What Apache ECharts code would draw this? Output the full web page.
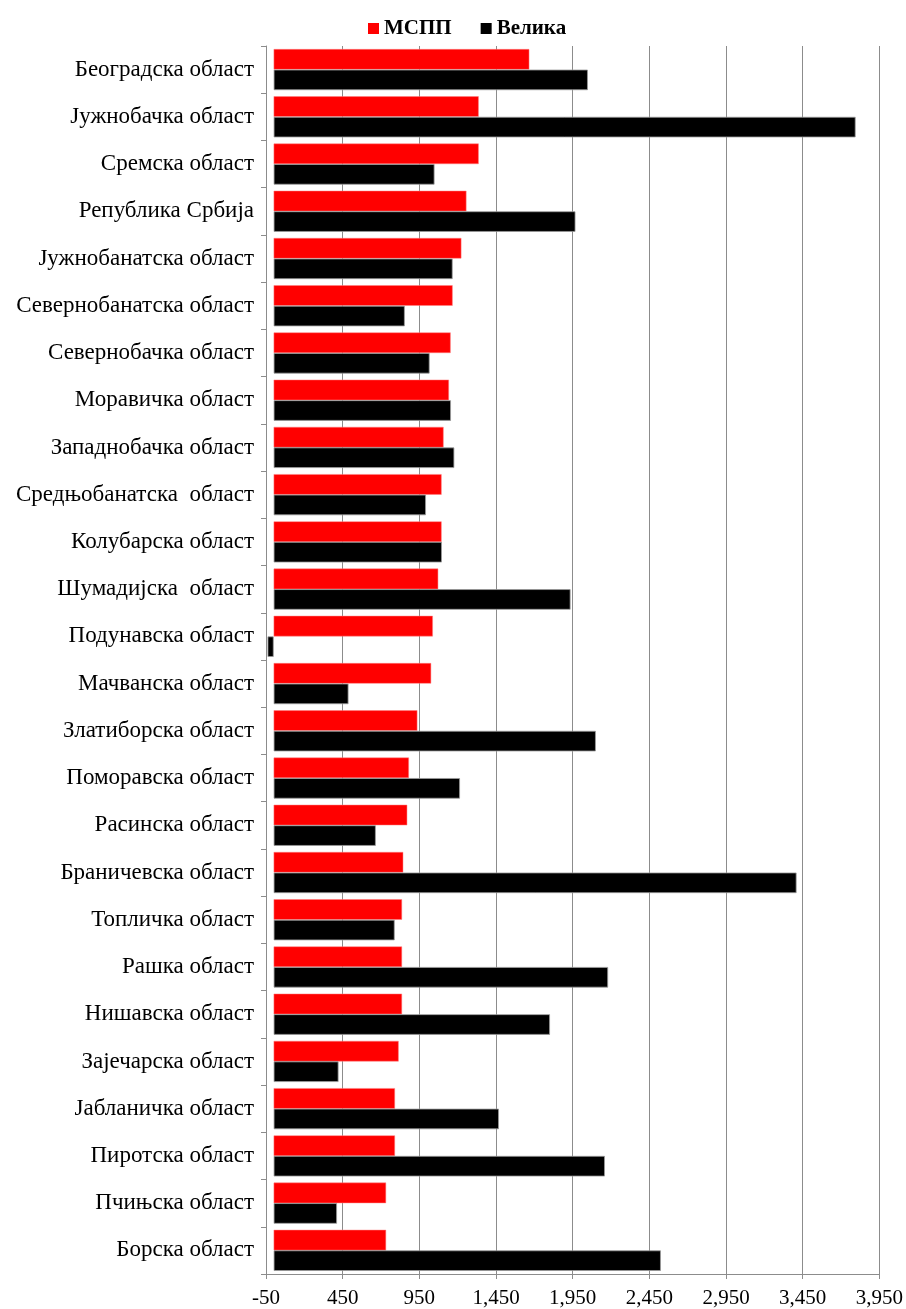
<!DOCTYPE html>
<html>
<head>
<meta charset="utf-8">
<script src="https://cdn.jsdelivr.net/npm/echarts@6/dist/echarts.min.js"></script>
<style>
  html, body { margin: 0; padding: 0; background: #fff; }
  #chart { width: 906px; height: 1309px; }
</style>
</head>
<body>
<div id="chart"></div>
<script>
// Области, од врха ка дну
const categories = [
  'Београдска област', 'Јужнобачка област', 'Сремска област', 'Република Србија',
  'Јужнобанатска област', 'Севернобанатска област', 'Севернобачка област',
  'Моравичка област', 'Западнобачка област', 'Средњобанатска  област',
  'Колубарска област', 'Шумадијска  област', 'Подунавска област',
  'Мачванска област', 'Златиборска област', 'Поморавска област',
  'Расинска област', 'Браничевска област', 'Топличка област', 'Рашка област',
  'Нишавска област', 'Зајечарска област', 'Јабланичка област',
  'Пиротска област', 'Пчињска област', 'Борска област'
];

const msppValues = [
  1667, 1337, 1337, 1257, 1224, 1167, 1154, 1143, 1108, 1095, 1095, 1073,
  1038, 1027, 937, 882, 871, 845, 837, 837, 837, 815, 791, 791, 733, 733
];

const velikaValues = [
  2049, 3795, 1049, 1968, 1167, 855, 1017, 1156, 1178, 993, 1097, 1936,
  -40, 488, 2101, 1215, 666, 3410, 789, 2181, 1802, 423, 1469, 2160, 413, 2525
];

const tickValues = [-50, 450, 950, 1450, 1950, 2450, 2950, 3450, 3950];
const tickLabels = ['-50', '450', '950', '1,450', '1,950', '2,450', '2,950', '3,450', '3,950'];

const serif = '"Liberation Serif", "DejaVu Serif", serif';
const gridGray = '#8c8c8c';

const chart = echarts.init(document.getElementById('chart'), null, { renderer: 'canvas' });

chart.setOption({
  animation: false,
  backgroundColor: '#ffffff',
  legend: {
    top: 13,
    left: 363,
    icon: 'rect',
    itemWidth: 11,
    itemHeight: 11,
    itemGap: 29,
    itemStyle: { borderWidth: 0 },
    textStyle: { fontFamily: serif, fontSize: 21, fontWeight: 'bold', color: '#000' },
    data: ['МСПП', 'Велика']
  },
  grid: { left: 266, right: 26, top: 46, bottom: 34, containLabel: false },
  xAxis: [{
    type: 'value',
    min: tickValues[0],
    max: tickValues[tickValues.length - 1],
    axisLine: { show: true, lineStyle: { color: gridGray, width: 1 } },
    axisTick: { show: true, length: 5, lineStyle: { color: gridGray }, customValues: tickValues },
    axisLabel: {
      customValues: tickValues,
      formatter: (v) => tickLabels[tickValues.indexOf(v)],
      fontFamily: serif, fontSize: 21, color: '#000', margin: 14
    },
    splitLine: { show: true, lineStyle: { color: gridGray, width: 1 } }
  }],
  yAxis: {
    type: 'category',
    inverse: true,
    data: categories,
    axisLine: { show: true, onZero: false, lineStyle: { color: gridGray, width: 1 } },
    axisTick: { show: true, length: 5, lineStyle: { color: gridGray } },
    axisLabel: { fontFamily: serif, fontSize: 23, color: '#000', margin: 12 }
  },
  series: [
    {
      name: 'МСПП',
      type: 'bar',
      data: msppValues,
      barGap: '0%',
      barCategoryGap: '13%',
      itemStyle: { color: '#ff0000', borderColor: '#ff8080', borderWidth: 0.5 }
    },
    {
      name: 'Велика',
      type: 'bar',
      data: velikaValues,
      barGap: '0%',
      barCategoryGap: '13%',
      itemStyle: { color: '#000000', borderColor: '#9a9a9a', borderWidth: 0.8 }
    }
  ]
});
</script>
</body>
</html>
